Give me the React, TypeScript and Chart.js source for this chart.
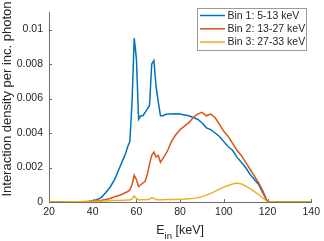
import React, { useEffect, useRef } from "react";
import { Chart, registerables } from "chart.js";
Chart.register(...registerables);

// Incident energy (keV)
const energies = [
  20, 25, 30, 32, 34, 36, 38, 40, 42, 44, 46, 48, 50, 52, 54,
  55, 56, 57, 58, 59, 60, 61, 62, 63, 64, 65, 66, 67, 68, 69, 70, 71, 72,
  74, 76, 78, 80, 82, 84, 86, 88, 90, 92, 94, 96, 98, 100, 102, 104, 106, 108, 110,
  112, 114, 116, 118, 120, 125, 130, 135, 140,
];

const bin1 = [
  0, 0, 0, 0, 0, 0, 0.00001, 0.00006, 0.00014, 0.00027, 0.00055, 0.00087, 0.0013, 0.0019, 0.0025,
  0.0028, 0.0032, 0.0035, 0.0058, 0.0095, 0.0083, 0.0048, 0.005, 0.005, 0.0052, 0.0054, 0.0056, 0.008, 0.0082, 0.0067, 0.0058, 0.005, 0.005,
  0.0051, 0.0051, 0.00512, 0.0051, 0.00505, 0.005, 0.0049, 0.0048, 0.0046, 0.0043, 0.0042, 0.004, 0.0038, 0.0035, 0.0032, 0.003, 0.0026, 0.0023, 0.002,
  0.0016, 0.0013, 0.001, 0.0005, 0, 0, 0, 0, 0,
];

const bin2 = [
  0, 0, 0.00001, 0.00001, 0.00002, 0.00003, 0.00004, 0.00006, 0.00008, 0.0001, 0.00015, 0.0002, 0.0003, 0.00038, 0.00048,
  0.00055, 0.0006, 0.0007, 0.001, 0.00155, 0.0013, 0.0009, 0.001, 0.0011, 0.0012, 0.0016, 0.0022, 0.0027, 0.0029, 0.0026, 0.0027, 0.0023, 0.0025,
  0.0029, 0.0035, 0.0039, 0.0042, 0.0044, 0.0046, 0.0049, 0.0051, 0.0052, 0.005, 0.0051, 0.0049, 0.0045, 0.0041, 0.0038, 0.0034, 0.003, 0.0027, 0.0023,
  0.0019, 0.0015, 0.0011, 0.0006, 0, 0, 0, 0, 0,
];

const bin3 = [
  0, 0, 0.00001, 0.00001, 0.00002, 0.00002, 0.00003, 0.00003, 0.00004, 0.00005, 0.00006, 0.00007, 0.00008, 0.00009, 0.0001,
  0.0001, 0.00011, 0.00012, 0.00018, 0.00035, 0.0002, 0.00013, 0.00013, 0.00013, 0.00013, 0.00014, 0.00016, 0.00024, 0.0002, 0.00014, 0.00013, 0.00013, 0.00013,
  0.00014, 0.00014, 0.00015, 0.00016, 0.00017, 0.00019, 0.00021, 0.00025, 0.00031, 0.0004, 0.0005, 0.00062, 0.00075, 0.00086, 0.00096, 0.00104, 0.0011, 0.00105, 0.00093,
  0.00077, 0.0006, 0.00042, 0.00022, 0, 0, 0, 0, 0,
];

const seriesValues = [bin1, bin2, bin3];
const seriesLabels = ["Bin 1: 5-13 keV", "Bin 2: 13-27 keV", "Bin 3: 27-33 keV"];
const seriesColors = ["#0072BD", "#D95319", "#EDB120"];

const xTicks = [20, 40, 60, 80, 100, 120, 140];
const yTicks = [0, 0.002, 0.004, 0.006, 0.008, 0.01];
const yTickLabels = ["0", "0.002", "0.004", "0.006", "0.008", "0.01"];
const xTitleMain = "E";
const xTitleSub = "in";
const xTitleUnit = " [keV]";
const yTitle = "Interaction density per inc. photon";

const FONT = '"Liberation Sans", Arial, Helvetica, sans-serif';
const TEXT = "#262626";
const AXIS = "#6e6e6e";

const decorations = {
  id: "decorations",
  beforeDatasetsDraw(chart: any) {
    const { ctx, chartArea, scales } = chart;
    ctx.save();
    ctx.strokeStyle = AXIS;
    ctx.lineWidth = 1;
    for (const t of scales.x.ticks) {
      const px = Math.round(scales.x.getPixelForValue(t.value)) + 0.5;
      ctx.beginPath();
      ctx.moveTo(px, chartArea.bottom);
      ctx.lineTo(px, chartArea.bottom - 3);
      ctx.stroke();
    }
    for (const t of scales.y.ticks) {
      const py = Math.round(scales.y.getPixelForValue(t.value)) + 0.5;
      ctx.beginPath();
      ctx.moveTo(chartArea.left, py);
      ctx.lineTo(chartArea.left + 3, py);
      ctx.stroke();
    }
    ctx.restore();
  },
  afterDraw(chart: any) {
    const { ctx, chartArea } = chart;
    ctx.save();
    // Legend box
    const bx = 197.5, by = 8.5, bw = 109, bh = 42;
    ctx.fillStyle = "#ffffff";
    ctx.fillRect(bx, by, bw, bh);
    ctx.strokeStyle = "#9a9a9a";
    ctx.lineWidth = 1;
    ctx.strokeRect(bx, by, bw, bh);
    ctx.font = `10.5px ${FONT}`;
    ctx.textBaseline = "middle";
    ctx.textAlign = "left";
    chart.data.datasets.forEach((ds: any, i: number) => {
      const yy = 15.5 + i * 13.3;
      ctx.strokeStyle = ds.borderColor;
      ctx.lineWidth = 1.5;
      ctx.beginPath();
      ctx.moveTo(200, yy);
      ctx.lineTo(225, yy);
      ctx.stroke();
      ctx.fillStyle = TEXT;
      ctx.fillText(ds.label, 227.5, yy + 0.5);
    });

    // X title with subscript
    const cx = (chartArea.left + chartArea.right) / 2;
    ctx.fillStyle = TEXT;
    ctx.textBaseline = "alphabetic";
    ctx.font = `12.5px ${FONT}`;
    const wMain = ctx.measureText(xTitleMain).width;
    const wUnit = ctx.measureText(xTitleUnit).width;
    ctx.font = `9.5px ${FONT}`;
    const wSub = ctx.measureText(xTitleSub).width;
    const x0 = cx - (wMain + wSub + wUnit) / 2;
    ctx.font = `12.5px ${FONT}`;
    ctx.fillText(xTitleMain, x0, 234);
    ctx.font = `9.5px ${FONT}`;
    ctx.fillText(xTitleSub, x0 + wMain, 238.5);
    ctx.font = `12.5px ${FONT}`;
    ctx.fillText(xTitleUnit, x0 + wMain + wSub, 234);

    // Y title
    ctx.translate(7.5, 99);
    ctx.rotate(-Math.PI / 2);
    ctx.textAlign = "center";
    ctx.textBaseline = "middle";
    ctx.font = `13px ${FONT}`;
    ctx.fillText(yTitle, 0, 0);
    ctx.restore();
  },
};

export default function App() {
  const ref = useRef<HTMLCanvasElement | null>(null);
  useEffect(() => {
    if (!ref.current) return;
    const chart = new Chart(ref.current, {
      type: "line",
      data: {
        datasets: seriesValues.map((vals, i) => ({
          label: seriesLabels[i],
          data: energies.map((e, j) => ({ x: e, y: vals[j] })),
          borderColor: seriesColors[i],
          backgroundColor: seriesColors[i],
          borderWidth: 1.5,
          pointRadius: 0,
          tension: 0,
          fill: false,
          order: 3 - i,
        })),
      },
      options: {
        animation: false,
        responsive: false,
        devicePixelRatio: 1,
        layout: { padding: { top: 1, right: 12, left: 0, bottom: 0 } },
        plugins: { legend: { display: false }, tooltip: { enabled: false } },
        scales: {
          x: {
            type: "linear",
            min: 20,
            max: 140,
            afterFit: (s: any) => { s.height = 39; },
            afterBuildTicks: (s: any) => { s.ticks = xTicks.map((v) => ({ value: v })); },
            grid: { display: false, drawTicks: false },
            border: { display: true, color: AXIS, width: 1 },
            ticks: {
              color: TEXT,
              font: { family: FONT, size: 10.5 },
              padding: 4,
              maxRotation: 0,
              autoSkip: false,
              callback: (v: any) => String(v),
            },
          },
          y: {
            type: "linear",
            min: 0,
            max: 0.011,
            afterFit: (s: any) => { s.width = 49; },
            afterBuildTicks: (s: any) => { s.ticks = yTicks.map((v) => ({ value: v })); },
            grid: { display: false, drawTicks: false },
            border: { display: true, color: AXIS, width: 1 },
            ticks: {
              color: TEXT,
              font: { family: FONT, size: 10.5 },
              padding: 6,
              autoSkip: false,
              callback: (v: any) => {
                const k = yTicks.findIndex((t) => Math.abs(t - v) < 1e-9);
                return k >= 0 ? yTickLabels[k] : "";
              },
            },
          },
        },
      },
      plugins: [decorations],
    });
    return () => chart.destroy();
  }, []);
  return (
    <div style={{ position: "absolute", left: 0, top: 0, width: 324, height: 241, background: "#fff" }}>
      <canvas ref={ref} width={324} height={241} style={{ display: "block" }} />
    </div>
  );
}
